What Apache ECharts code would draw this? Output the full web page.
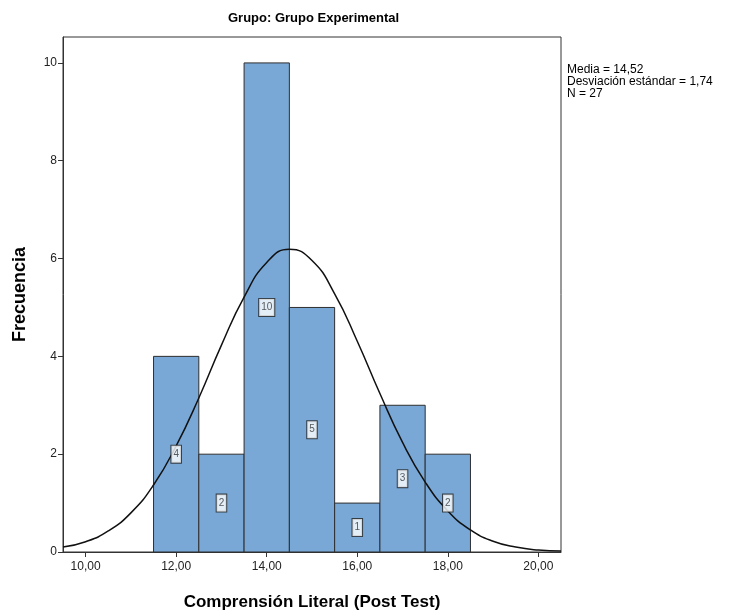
<!DOCTYPE html>
<html>
<head>
<meta charset="utf-8">
<script src="https://cdn.jsdelivr.net/npm/echarts@6/dist/echarts.min.js"></script>
<style>
  html, body { margin: 0; padding: 0; background: #fff; }
  #chart { width: 731px; height: 612px; }
</style>
</head>
<body>
<div id="chart"></div>
<script>
// histogram bins (bin centres) and counts
const binCenters = [12, 13, 14, 15, 16, 17, 18];
const counts = [4, 2, 10, 5, 1, 3, 2];

// normal curve, values
const curveX = [9.5, 10, 10.5, 11, 11.5, 12, 12.5, 13, 13.5, 14, 14.5, 15, 15.5, 16, 16.5, 17, 17.5, 18, 18.5, 19, 19.5, 20, 20.5];
const curveY = [0.10, 0.21, 0.43, 0.80, 1.37, 2.17, 3.15, 4.23, 5.21, 5.92, 6.19, 5.96, 5.28, 4.31, 3.24, 2.24, 1.43, 0.84, 0.45, 0.22, 0.10, 0.04, 0.02];

const xTicks = [10, 12, 14, 16, 18, 20];
const yTicks = [0, 2, 4, 6, 8, 10];
const statsLines = ["Media = 14,52", "Desviación estándar = 1,74", "N = 27"];

const font = "'Liberation Sans', Arial, sans-serif";

const chart = echarts.init(document.getElementById("chart"));

const barData = binCenters.map((c, i) => [c, counts[i]]);
const curveData = curveX.map((x, i) => [x, curveY[i]]);

chart.setOption({
   animation: false,
   title: {
      text: "Grupo: Grupo Experimental",
      left: 223,
      top: 7,
      textStyle: { fontFamily: font, fontSize: 13, fontWeight: "bold", color: "#000" },
   },
   grid: {
      left: 63,
      top: 37,
      right: 170,
      bottom: 60,
      outerBoundsMode: "none",
      show: true,
      borderColor: "#333",
      borderWidth: 1,
      backgroundColor: "#fff",
   },
   xAxis: {
      type: "value",
      min: 9.5,
      max: 20.5,
      name: "Comprensión Literal (Post Test)",
      nameLocation: "middle",
      nameGap: 42,
      nameTextStyle: { fontFamily: font, fontSize: 17, fontWeight: "bold", color: "#000" },
      axisLine: { show: true, lineStyle: { color: "#333" } },
      axisTick: { show: true, length: 5, customValues: xTicks, lineStyle: { color: "#333" } },
      axisLabel: {
         customValues: xTicks,
         fontFamily: font,
         fontSize: 12,
         color: "#222",
         margin: 9,
         formatter: (v) => v.toFixed(2).replace(".", ","),
      },
      splitLine: { show: false },
   },
   yAxis: {
      type: "value",
      min: 0,
      max: 10.53,
      name: "Frecuencia",
      nameLocation: "middle",
      nameGap: 34,
      nameTextStyle: { fontFamily: font, fontSize: 18, fontWeight: "bold", color: "#000" },
      axisLine: { show: true, lineStyle: { color: "#333" } },
      axisTick: { show: true, length: 5, customValues: yTicks, lineStyle: { color: "#333" } },
      axisLabel: { customValues: yTicks, fontFamily: font, fontSize: 12, color: "#222", margin: 6 },
      splitLine: { show: false },
   },
   series: [
      {
         type: "custom",
         data: barData,
         encode: { x: 0, y: 1 },
         renderItem: function (params, api) {
            const c = api.value(0);
            const v = api.value(1);
            const p0 = api.coord([c - 0.5, v]);
            const p1 = api.coord([c + 0.5, 0]);
            return {
               type: "rect",
               shape: { x: p0[0], y: p0[1], width: p1[0] - p0[0], height: p1[1] - p0[1] },
               style: { fill: "#79a8d6", stroke: "#2e2e2e", lineWidth: 1 },
            };
         },
         z: 2,
      },
      {
         type: "line",
         data: curveData,
         smooth: true,
         showSymbol: false,
         lineStyle: { color: "#111", width: 1.5 },
         z: 3,
      },
      {
         // count boxes at mid-height of each bar
         type: "scatter",
         data: barData.map((d) => [d[0], d[1] / 2, d[1]]),
         symbolSize: 0,
         label: {
            show: true,
            position: "inside",
            formatter: (p) => String(p.data[2]),
            fontFamily: font,
            fontSize: 10,
            color: "#333",
            backgroundColor: "#fff",
            borderColor: "#222",
            borderWidth: 1,
            padding: [4, 2, 3, 2],
         },
         z: 4,
      },
   ],
   graphic: [
      {
         type: "text",
         left: 567,
         top: 64,
         style: {
            text: statsLines.join("\n"),
            font: "12px " + font,
            lineHeight: 12,
            fill: "#000",
         },
      },
   ],
});
</script>
</body>
</html>
